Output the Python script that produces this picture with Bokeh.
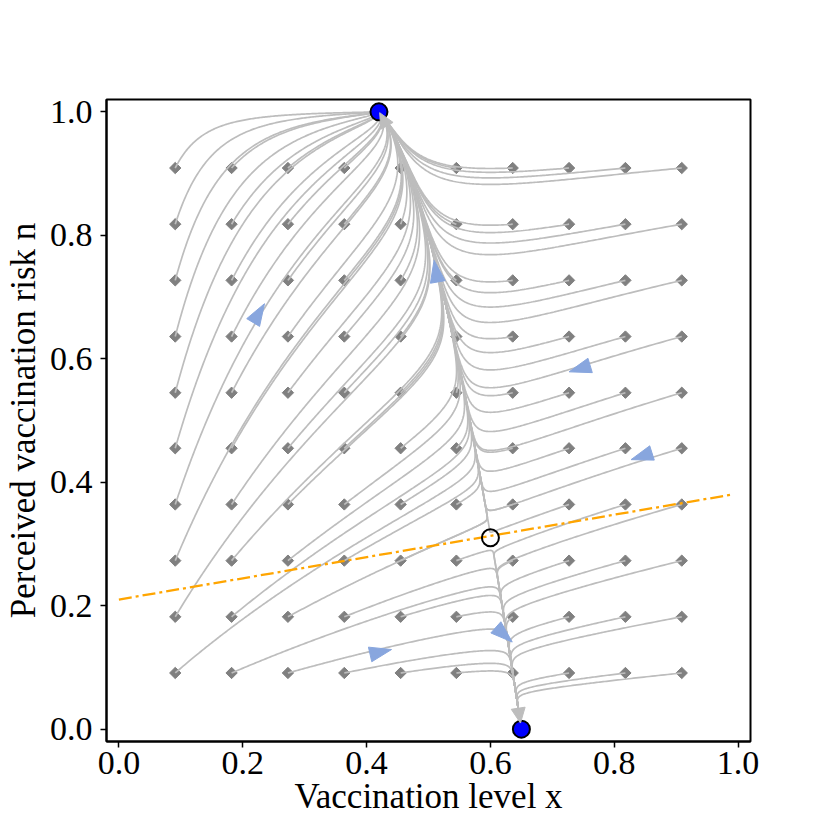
import numpy as np
from bokeh.plotting import figure
from bokeh.models import FixedTicker
from bokeh.embed import file_html
from bokeh.resources import INLINE

# ---------------- data ----------------
# starting grid (grey diamonds), same values on both axes
grid_x = [0.091, 0.182, 0.273, 0.364, 0.455, 0.545, 0.636, 0.727, 0.818, 0.909]
grid_n = [0.091, 0.182, 0.273, 0.364, 0.455, 0.545, 0.636, 0.727, 0.818, 0.909]

# equilibria
stable_x = [0.42, 0.65]
stable_n = [1.0, 0.0]
saddle_x = [0.60]
saddle_n = [0.31]

# orange dash-dot threshold line
threshold_x = [0.0, 0.99]
threshold_n = [0.21, 0.38]

# blue direction arrows (positions)
arrow_x = [0.226, 0.512, 0.744, 0.844, 0.423, 0.622]
arrow_n = [0.674, 0.742, 0.584, 0.442, 0.125, 0.153]

# model parameters (imitation dynamics with risk-perception feedback)
omega = 2.52      # weight of infection risk
inv_r0 = 0.35     # 1/R0
x_switch = 0.60   # vaccination level where perceived risk stops growing
eps = 2.5         # relative speed of risk perception

tick_vals = [0.0, 0.2, 0.4, 0.6, 0.8, 1.0]
tick_labels = ["0.0", "0.2", "0.4", "0.6", "0.8", "1.0"]

LINE = "#bdbdbd"
DIAMOND = "#808080"
BLUE_ARROW = "#88a6de"
FONT = "Liberation Serif"


def field(x, n):
    dx = x * (1 - x) * (omega * (1 - inv_r0 / (1 - x)) - n)
    dn = eps * n * (1 - n) * (x_switch - x)
    return dx, dn


def integrate(x, n, dt=0.01, steps=10000):
    x = np.asarray(x, float)
    n = np.asarray(n, float)
    X = np.empty((steps + 1, x.size))
    N = np.empty((steps + 1, x.size))
    X[0], N[0] = x, n
    for i in range(steps):
        k1 = field(x, n)
        k2 = field(x + 0.5 * dt * k1[0], n + 0.5 * dt * k1[1])
        k3 = field(x + 0.5 * dt * k2[0], n + 0.5 * dt * k2[1])
        k4 = field(x + dt * k3[0], n + dt * k3[1])
        x = x + dt / 6 * (k1[0] + 2 * k2[0] + 2 * k3[0] + k4[0])
        n = n + dt / 6 * (k1[1] + 2 * k2[1] + 2 * k3[1] + k4[1])
        X[i + 1], N[i + 1] = x, n
    return X, N


# ---------------- trajectories from the grid ----------------
gx, gn = np.meshgrid(np.array(grid_x), np.array(grid_n))
X, N = integrate(gx.ravel(), gn.ravel())

xs, ys = [], []
for j in range(X.shape[1]):
    tx, ty = X[:, j], N[:, j]
    seg = np.hypot(np.diff(tx), np.diff(ty))
    keep = [0]
    acc = 0.0
    for k, s in enumerate(seg):
        acc += s
        if acc > 0.002:
            keep.append(k + 1)
            acc = 0.0
    keep.append(len(tx) - 1)
    xs.append(tx[keep].tolist())
    ys.append(ty[keep].tolist())

# flow leaving the saddle (the bundle) -> arrival directions at the attractors
MX, MN = integrate([saddle_x[0], saddle_x[0]], [saddle_n[0] + 0.01, saddle_n[0] - 0.01], steps=6000)
ends = []
for j in range(2):
    tx, ty = MX[:, j], MN[:, j]
    d = np.hypot(tx - tx[-1], ty - ty[-1])
    k = np.where(d > 0.07)[0][-1]
    ends.append((tx[-1], ty[-1], tx[-1] - tx[k], ty[-1] - ty[k]))

# ---------------- figure ----------------
x0, x1, y0, y1 = -0.02, 1.02, -0.02, 1.02
FW, FH = 644, 642
p = figure(frame_width=FW, frame_height=FH, x_range=(x0, x1), y_range=(y0, y1),
           output_backend="svg", toolbar_location=None,
           min_border_left=102, min_border_right=60, min_border_top=99, min_border_bottom=78,
           background_fill_color="white", border_fill_color="white")
sx = FW / (x1 - x0)
sy = FH / (y1 - y0)


def triangle(cx, cy, dx, dy, L, W):
    vx, vy = dx * sx, dy * sy
    norm = np.hypot(vx, vy)
    ux, uy = vx / norm, vy / norm
    px_, py_ = -uy, ux
    tipx, tipy = cx + ux * L / 2 / sx, cy + uy * L / 2 / sy
    bx, by = cx - ux * L / 2 / sx, cy - uy * L / 2 / sy
    return ([tipx, bx + px_ * W / 2 / sx, bx - px_ * W / 2 / sx],
            [tipy, by + py_ * W / 2 / sy, by - py_ * W / 2 / sy])


# grid diamonds
p.scatter(gx.ravel(), gn.ravel(), marker="square", angle=np.pi / 4, size=8,
          fill_color=DIAMOND, line_color=DIAMOND)

# trajectories
p.multi_line(xs, ys, line_color=LINE, line_width=1.7)

# orange threshold line
p.line(threshold_x, threshold_n, line_color="orange", line_width=2.3, line_dash="13 4 3 4")

# blue arrows
bxs, bys = [], []
for ax_, an_ in zip(arrow_x, arrow_n):
    dxv, dnv = field(ax_, an_)
    tx_, ty_ = triangle(ax_, an_, dxv, dnv, 22, 15)
    bxs.append(tx_)
    bys.append(ty_)
p.patches(bxs, bys, fill_color=BLUE_ARROW, line_color=BLUE_ARROW, line_width=1)

# equilibria
p.scatter(stable_x, stable_n, marker="circle", size=17, fill_color="blue",
          line_color="black", line_width=2)
p.scatter(saddle_x, saddle_n, marker="circle", size=17, fill_color=None,
          line_color="black", line_width=2)

# grey arrowheads at arrival
gxs, gys = [], []
for ex, ey, dxv, dyv in ends:
    L = 15
    vx, vy = dxv * sx, dyv * sy
    nrm = np.hypot(vx, vy)
    cx = ex - vx / nrm * L / 2 / sx
    cy = ey - vy / nrm * L / 2 / sy
    tx_, ty_ = triangle(cx, cy, dxv, dyv, L, 14)
    gxs.append(tx_)
    gys.append(ty_)
p.patches(gxs, gys, fill_color=LINE, line_color=LINE, line_width=1)

# axes styling
p.grid.visible = False
p.outline_line_color = "black"
p.outline_line_width = 2
p.outline_line_alpha = 1
for axis in (p.xaxis[0], p.yaxis[0]):
    axis.ticker = FixedTicker(ticks=tick_vals)
    axis.major_label_overrides = dict(zip(tick_vals, tick_labels))
    axis.minor_tick_line_color = None
    axis.major_tick_out = 6
    axis.major_tick_in = 0
    axis.major_tick_line_color = "black"
    axis.major_tick_line_width = 1.5
    axis.axis_line_color = "black"
    axis.axis_line_width = 2
    axis.major_label_text_font = FONT
    axis.major_label_text_font_size = "34px"
    axis.major_label_text_color = "black"
    axis.axis_label_text_font = FONT
    axis.axis_label_text_font_size = "35px"
    axis.axis_label_text_font_style = "normal"
    axis.axis_label_text_color = "black"
p.xaxis.major_label_standoff = 4
p.yaxis.major_label_standoff = 8
p.xaxis.axis_label_standoff = 0
p.yaxis.axis_label_standoff = 4
p.xaxis.axis_label = "Vaccination level x"
p.yaxis.axis_label = "Perceived vaccination risk n"

open("out.html", "w").write(file_html(p, INLINE))
